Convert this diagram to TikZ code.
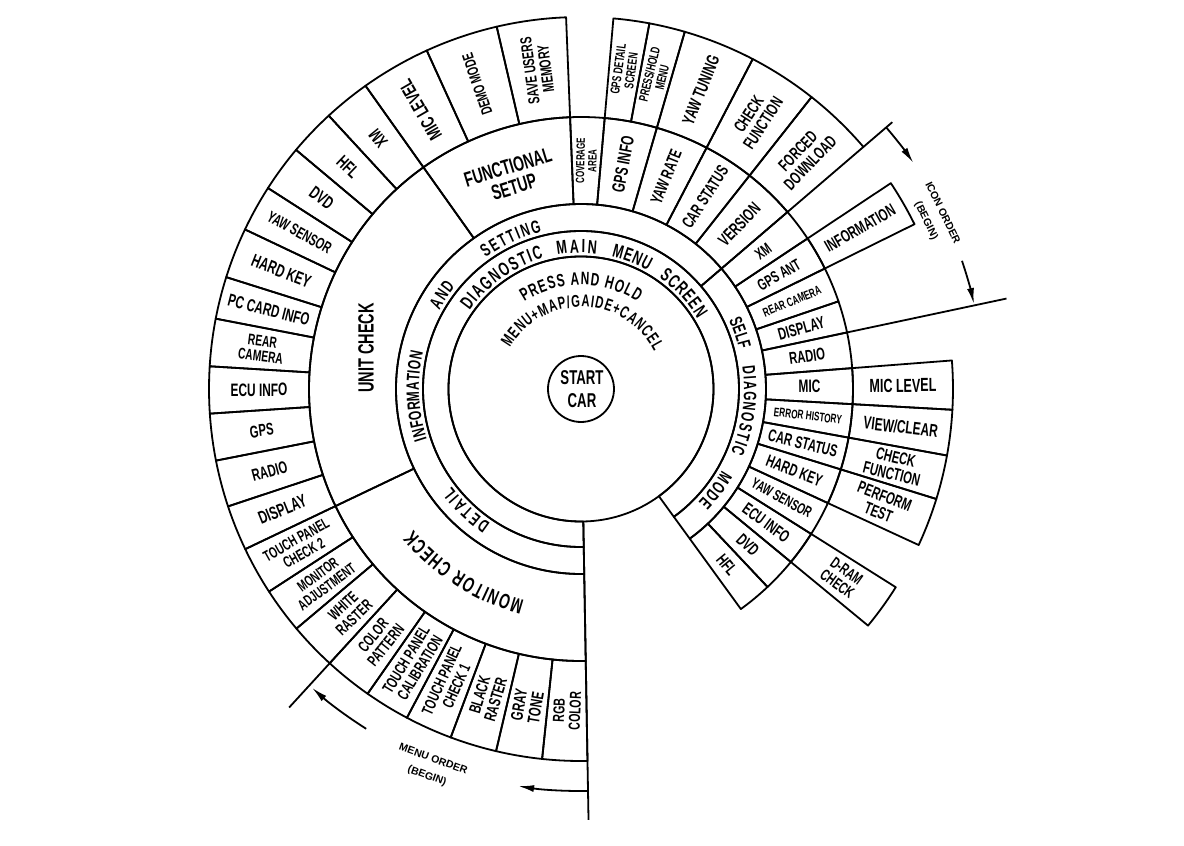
\documentclass[tikz,border=0pt]{standalone}
\usepackage{fontspec}
\newfontfamily\condfont[FakeStretch=0.66]{Liberation Sans Bold}
\newfontfamily\orderfont{Liberation Sans}
\usetikzlibrary{arrows.meta,decorations.text}
\newcommand{\lblfont}[1]{\condfont\fontsize{#1}{#1}\selectfont}
\newcommand{\ringcell}[4]{%
  \draw[bord] (#1:#3) arc[start angle=#1, end angle=#2, radius=#3]
    -- (#2:#4) arc[start angle=#2, end angle=#1, radius=#4] -- cycle;}
\newcommand{\curvetext}[5]{%
  \path[decorate, decoration={text along path, text align=fit to path,
    text={|\lblfont{#4}|#5}}] (#1:#3) arc[start angle=#1, end angle=#2, radius=#3];}
\tikzset{
  bord/.style={line width=1.8pt, line join=round},
  lbl/.style={font=\lblfont{#1}, align=center, inner sep=0pt},
  lbl/.default=17,
  order/.style={font=\orderfont\bfseries\fontsize{10.5}{18}\selectfont, align=center, inner sep=0pt},
  arr/.style={bord, -{Latex[length=16pt, width=7pt]}}
}
\begin{document}
\begin{tikzpicture}[x=1pt, y=1pt]
\useasboundingbox (-581,-457) rectangle (603,389);
\fill[white] (-581,-457) rectangle (603,389);

% start car
\draw[bord] (0,0) circle[radius=33];
\node[lbl=20] (start) at (1,0) {START\\[3pt]CAR};
\draw[bord] (0,0) circle[radius=132.5];

% inner rings
\ringcell{-54}{271}{132.5}{158}
\ringcell{40.6}{271}{158}{185}
\ringcell{-54}{40.6}{158}{185}

% texts inside the inner disk
\curvetext{123}{57}{104}{18}{PRESS AND HOLD}
\curvetext{150}{27}{82}{17}{MENU+MAP/GAIDE+CANCEL}

% diagnostic main menu screen
\curvetext{145}{106}{136}{19}{DIAGNOSTIC}
\curvetext{100}{83.5}{136}{19}{MAIN}
\curvetext{77}{60.5}{136}{19}{MENU}
\curvetext{55}{31}{136}{19}{SCREEN}

% detail information and setting / self diagnostic mode
\curvetext{236}{217}{162}{18}{DETAIL}
\curvetext{198}{167}{162}{18}{INFORMATION}
\curvetext{151}{141}{162}{18}{AND}
\curvetext{126}{104}{162}{18}{SETTING}
\curvetext{25}{14}{163}{18}{SELF}
\curvetext{8}{-23}{163}{18}{DIAGNOSTIC}
\curvetext{-30}{-44}{163}{18}{MODE}

% main groups
\ringcell{205.5}{271}{185}{272}
\ringcell{125.4}{205.5}{185}{272}
\ringcell{92.3}{125.4}{185}{272}
\curvetext{255}{220}{219}{21}{MONITOR CHECK}
\node[lbl=22, rotate=90] (unit) at (-215,41) {UNIT CHECK};
\node[lbl=21, rotate=17] (func) at (-70,212) {FUNCTIONAL\\SETUP};

% second ring, right half
\foreach \a/\b/\s/\t [count=\i] in {
  85/92.3/12/{COVERAGE\\AREA},
  73.8/85/18/{GPS INFO},
  62.5/73.8/17/{YAW RATE},
  51.7/62.5/17/{CAR STATUS},
  40.6/51.7/17.5/{VERSION},
  33.6/40.6/16/{XM},
  26.3/33.6/16/{GPS ANT},
  18.8/26.3/12.5/{REAR CAMERA},
  12/18.8/17/{DISPLAY},
  4.4/12/17/{RADIO},
  -3.2/4.4/18/{MIC},
  -10.3/-3.2/12.5/{ERROR HISTORY},
  -17.2/-10.3/17/{CAR STATUS},
  -24.8/-17.2/17/{HARD KEY},
  -32.2/-24.8/15/{YAW SENSOR},
  -39.5/-32.2/17/{ECU INFO},
  -46.7/-39.5/17/{DVD},
  -54/-46.7/17/{HFL}}{
  \ringcell{\a}{\b}{185}{272}
  \pgfmathsetmacro\mid{(\a+\b)/2}
  \node[lbl=\s, rotate=\mid] (mid\i) at (\mid:228.5) {\t};
}

% outer ring, right half
\foreach \a/\b/\s/\t [count=\i] in {
  79.4/85/13/{GPS DETAIL\\SCREEN},
  73.8/79.4/13/{PRESS/HOLD\\MENU},
  62.5/73.8/17.5/{YAW TUNING},
  51.7/62.5/17/{CHECK\\FUNCTION},
  40.6/51.7/17/{FORCED\\DOWNLOAD},
  26.3/33.6/17/{INFORMATION},
  -3.2/4.4/19/{MIC LEVEL},
  -10.3/-3.2/18/{VIEW/CLEAR},
  -17.2/-10.3/17/{CHECK\\FUNCTION},
  -24.8/-17.2/17/{PERFORM\\TEST},
  -39.5/-32.2/16/{D-RAM\\CHECK}}{
  \ringcell{\a}{\b}{272}{372}
  \pgfmathsetmacro\mid{(\a+\b)/2}
  \node[lbl=\s, rotate=\mid] (outr\i) at (\mid:322) {\t};
}

% outer ring, left half (m=1: read towards the centre)
\foreach \a/\b/\s/\m/\t [count=\i] in {
  92.3/103.1/16/0/{SAVE USERS\\MEMORY},
  103.1/114.5/15.5/0/{DEMO MODE},
  114.5/125.4/19/0/{MIC LEVEL},
  125.4/132.7/18/0/{XM},
  132.7/140/18/1/{HFL},
  140/147.3/18/1/{DVD},
  147.3/154.6/16/1/{YAW SENSOR},
  154.6/162.5/18/1/{HARD KEY},
  162.5/169.1/17.5/1/{PC CARD INFO},
  169.1/176.5/15.5/1/{REAR\\CAMERA},
  176.5/183.8/18/1/{ECU INFO},
  183.8/191.1/17/1/{GPS},
  191.1/198.4/17/1/{RADIO},
  198.4/205.5/18/1/{DISPLAY},
  205.5/213/15.5/1/{TOUCH PANEL\\CHECK 2},
  213/220.1/15/1/{MONITOR\\ADJUSTMENT},
  220.1/227.5/16/1/{WHITE\\RASTER},
  227.5/235/16/1/{COLOR\\PATTERN},
  235/242.1/16/1/{TOUCH PANEL\\CALIBRATION},
  242.1/249.5/16/1/{TOUCH PANEL\\CHECK 1},
  249.5/256.8/16.5/1/{BLACK\\RASTER},
  256.8/264/17/1/{GRAY\\TONE},
  264/271/16/1/{RGB\\COLOR}}{
  \ringcell{\a}{\b}{272}{372}
  \pgfmathsetmacro\mid{(\a+\b)/2}
  \pgfmathsetmacro\rot{\mid-180*\m}
  \node[lbl=\s, rotate=\rot] (outl\i) at (\mid:322) {\t};
}

% order marks
\draw[bord] (271:132.5) -- (271:431);
\draw[bord] (227.5:372) -- (227.5:432);
\draw[bord] (12:272) -- (12:435);
\draw[bord] (40.6:372) -- (40.6:410);

% menu order
\draw[arr] (271:402) arc[start angle=271, end angle=261, radius=402];
\draw[arr] (237.7:402) arc[start angle=237.7, end angle=228, radius=402];
\node[order, rotate=-20] (menuorder) at (-151,-379) {MENU ORDER\\(BEGIN)};

% icon order
\draw[arr] (40.6:402) arc[start angle=40.6, end angle=34.2, radius=402];
\draw[arr] (18.6:402) arc[start angle=18.6, end angle=12.2, radius=402];
\node[order, rotate=-64] (iconorder) at (353,172) {ICON ORDER\\(BEGIN)};

\end{tikzpicture}
\end{document}
